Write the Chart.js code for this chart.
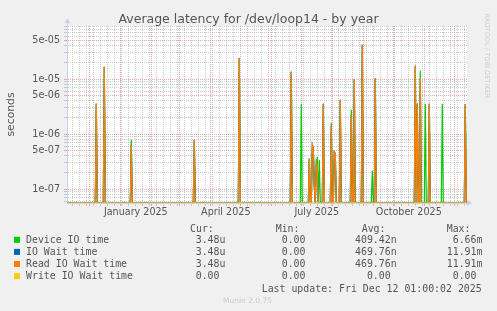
<!DOCTYPE html>
<html><head><meta charset="utf-8">
<script src="https://cdn.jsdelivr.net/npm/chart.js@4/dist/chart.umd.min.js"></script>
<style>html,body{margin:0;padding:0;background:#F0F0F0;overflow:hidden}canvas{display:block}</style>
</head><body>
<canvas id="c" width="497" height="311"></canvas>
<script>
// ---------- text ----------
const TITLE = 'Average latency for /dev/loop14 - by year';
const Y_LABEL = 'seconds';
const LAST_UPDATE = 'Last update: Fri Dec 12 01:00:02 2025';
const FOOTER = 'Munin 2.0.75';
const WATERMARK = 'RRDTOOL / TOBI OETIKER';

// ---------- x axis (days relative to 2025-01-01) ----------
const X_MIN = -53.3, X_MAX = 346.7;
const monthStartDays = [-31, 0, 31, 59, 90, 120, 151, 181, 212, 243, 273, 304, 334];
const monthLabelDays = [0, 90, 181, 273];
const monthLabelText = ['January 2025', 'April 2025', 'July 2025', 'October 2025'];

// ---------- y axis ----------
const Y_MIN = 5.57e-8, Y_MAX = 9.2e-5;
const yLabelMantissas = [1, 5];

// ---------- series (daily averages; days without a listed value are 0) ----------
const spikeDays  = [-24, -16, 11, 74, 119, 171, 181, 189, 192, 193, 194, 196, 197, 199, 203, 211, 214, 215, 220, 231, 234, 242, 252, 255, 295, 297, 300, 305, 309, 322, 345];
const deviceTime = [3.56e-6, 1.67e-5, 7.9e-7, 7.9e-7, 2.41e-5, 1.36e-5, 3.56e-6, 3.56e-7, 5.5e-7, 5.55e-7, 1.1e-7, 2.8e-7, 3.8e-7, 3.4e-7, 3.56e-6, 1.58e-6, 4.7e-7, 4.4e-7, 4.2e-6, 2.77e-6, 1.0e-5, 4.2e-5, 2.15e-7, 1.04e-5, 1.75e-5, 3.56e-6, 1.42e-5, 3.56e-6, 3.56e-6, 3.56e-6, 3.48e-6];
const ioWaitTime = [3.56e-6, 1.67e-5, 6.4e-7, 7.9e-7, 2.41e-5, 1.36e-5, 0, 3.56e-7, 6.4e-7, 5.55e-7, 1.1e-7, 3.05e-7, 2.6e-7, 0, 3.56e-6, 1.42e-6, 4.7e-7, 4.4e-7, 4.2e-6, 2.24e-6, 1.0e-5, 4.2e-5, 0, 1.04e-5, 1.75e-5, 3.56e-6, 1.04e-5, 0, 3.56e-6, 0, 3.48e-6];
const readWaitTime = [3.56e-6, 1.67e-5, 6.4e-7, 7.9e-7, 2.41e-5, 1.36e-5, 0, 3.56e-7, 6.4e-7, 5.55e-7, 1.1e-7, 3.05e-7, 2.6e-7, 0, 3.56e-6, 1.42e-6, 4.7e-7, 4.4e-7, 4.2e-6, 2.24e-6, 1.0e-5, 4.2e-5, 0, 1.04e-5, 1.75e-5, 3.56e-6, 1.04e-5, 0, 3.56e-6, 0, 3.48e-6];
const writeWaitTime = [];  // all zero
const FIRST_DAY = -53, LAST_DAY = 346;

// ---------- legend ----------
const seriesNames  = ['Device IO time', 'IO Wait time', 'Read IO Wait time', 'Write IO Wait time'];
const seriesColors = ['#00CC00', '#0066B3', '#FF8000', '#FFCC00'];
const curVals = ['3.48u', '3.48u', '3.48u', '0.00'];
const minVals = ['0.00', '0.00', '0.00', '0.00'];
const avgVals = ['409.42n', '469.76n', '469.76n', '0.00'];
const maxVals = ['6.66m', '11.91m', '11.91m', '0.00'];

// ---------- build tables ----------
// zero values are clamped to the bottom of the log axis (as rrdtool does)
function daily(vals) {
  const m = new Map();
  spikeDays.forEach((d, i) => { if (vals[i] !== undefined) m.set(d, vals[i]); });
  const out = [];
  for (let d = FIRST_DAY; d <= LAST_DAY; d++) {
    const v = m.has(d) ? m.get(d) : 0;
    out.push({x: d, y: v > 0 ? v : Y_MIN});
  }
  return out;
}
const seriesData = [deviceTime, ioWaitTime, readWaitTime, writeWaitTime];

const xTicks = (() => {
  const s = new Set(monthStartDays.filter(d => d >= X_MIN && d <= X_MAX));
  const arr = [...s];
  for (let d = 1 - 7 * 8; d <= X_MAX; d += 7) if (d >= X_MIN && !s.has(d)) arr.push(d);
  return arr.sort((a, b) => a - b);
})();
const yTicks = (() => {
  const arr = [];
  for (let e = -8; e <= -4; e++) for (let m = 1; m <= 9; m++) {
    const v = Number((m * Math.pow(10, e)).toPrecision(3));
    if (v >= Y_MIN && v <= Y_MAX) arr.push(v);
  }
  return arr;
})();
function mant(v) { return Math.round(v / Math.pow(10, Math.floor(Math.log10(v) + 1e-9))); }
function fmtExp(v) {
  const e = Math.floor(Math.log10(v) + 1e-9), m = mant(v);
  const a = Math.abs(e);
  return m + 'e' + (e < 0 ? '-' : '+') + (a < 10 ? '0' + a : a);
}

const MAJOR = 'rgba(228,130,130,0.7)';
const MINOR = 'rgba(180,180,180,0.7)';
const AXIS = '#C8D0F4';
const TXT = '#555555';

const bgPlugin = {
  id: 'bg',
  beforeDraw(chart) {
    const {ctx, chartArea: a} = chart;
    ctx.save();
    ctx.fillStyle = '#F0F0F0';
    ctx.fillRect(0, 0, chart.width, chart.height);
    ctx.fillStyle = '#FFFFFF';
    ctx.fillRect(a.left, a.top, a.right - a.left, a.bottom - a.top);
    ctx.restore();
  },
  afterDraw(chart) {
    const {ctx, chartArea: a} = chart;
    ctx.save();
    // arrows
    ctx.fillStyle = AXIS; ctx.strokeStyle = AXIS; ctx.lineWidth = 1;
    ctx.beginPath(); ctx.moveTo(a.left + 0.5, a.top); ctx.lineTo(a.left + 0.5, a.top - 4); ctx.stroke();
    ctx.beginPath(); ctx.moveTo(a.left - 2.5, a.top - 3); ctx.lineTo(a.left + 3.5, a.top - 3); ctx.lineTo(a.left + 0.5, a.top - 8); ctx.closePath(); ctx.fill();
    ctx.beginPath(); ctx.moveTo(a.right, a.bottom - 3); ctx.lineTo(a.right, a.bottom + 3); ctx.lineTo(a.right + 5, a.bottom); ctx.closePath(); ctx.fill();

    // title
    ctx.fillStyle = TXT;
    ctx.font = '12.5px "DejaVu Sans"';
    ctx.textAlign = 'center'; ctx.textBaseline = 'alphabetic';
    ctx.fillText(TITLE, 248.5, 23.3);

    // watermark
    ctx.save();
    ctx.fillStyle = '#CCCCCC';
    ctx.font = '6.6px "DejaVu Sans"';
    ctx.translate(487, 13.5);
    ctx.rotate(Math.PI / 2);
    ctx.textAlign = 'left'; ctx.textBaseline = 'middle';
    ctx.fillText(WATERMARK, 0, 0);
    ctx.restore();

    // legend
    ctx.font = '9.9px "DejaVu Sans Mono"';
    ctx.textAlign = 'left'; ctx.textBaseline = 'alphabetic';
    ctx.fillStyle = TXT;
    ctx.fillText('Cur:', 190, 231.5);
    ctx.fillText('Min:', 275.7, 231.5);
    ctx.fillText('Avg:', 361.7, 231.5);
    ctx.fillText('Max:', 446.7, 231.5);
    const pad = s => { const m = s.match(/^([0-9.]+)(.*)$/); return m[1].padStart(6, ' ') + m[2]; };
    for (let i = 0; i < seriesNames.length; i++) {
      const by = 243.1 + 12.1 * i;
      ctx.fillStyle = seriesColors[i];
      ctx.fillRect(14, by - 6.3, 6, 6);
      ctx.fillStyle = TXT;
      ctx.fillText(seriesNames[i], 26, by);
      ctx.fillText(pad(curVals[i]), 183.8, by);
      ctx.fillText(pad(minVals[i]), 269.8, by);
      ctx.fillText(pad(avgVals[i]), 355, by);
      ctx.fillText(pad(maxVals[i]), 440.8, by);
    }
    ctx.fillText(LAST_UPDATE, 261.7, 291.6);

    ctx.fillStyle = '#CCCCCC';
    ctx.font = '7.5px "DejaVu Sans"';
    ctx.textAlign = 'center';
    ctx.fillText(FOOTER, 247.5, 303);
    ctx.restore();
  }
};

const order = [3, 2, 1, 0];
new Chart(document.getElementById('c'), {
  type: 'line',
  data: {
    datasets: seriesNames.map((n, i) => ({
      label: n,
      data: daily(seriesData[i]),
      borderColor: seriesColors[i],
      backgroundColor: seriesColors[i],
      borderWidth: 1.2,
      pointRadius: 0,
      tension: 0,
      fill: false,
      clip: 0,
      order: order[i]
    }))
  },
  options: {
    responsive: false,
    animation: false,
    events: [],
    layout: {padding: {left: 0, right: 30, top: 26, bottom: 0}},
    plugins: {legend: {display: false}, tooltip: {enabled: false}, title: {display: false}},
    scales: {
      x: {
        type: 'linear',
        min: X_MIN, max: X_MAX,
        afterBuildTicks: s => { s.ticks = xTicks.map(v => ({value: v})); },
        afterFit: s => { s.height = 108; },
        grid: {
          color: c => monthStartDays.includes(c.tick && c.tick.value) ? MAJOR : MINOR,
          tickColor: c => monthStartDays.includes(c.tick && c.tick.value) ? MAJOR : MINOR,
          lineWidth: 1,
          drawTicks: true,
          tickLength: 3
        },
        border: {display: true, color: AXIS, width: 1, dash: [1, 1]},
        ticks: {
          autoSkip: false, maxRotation: 0, minRotation: 0,
          padding: 0.5,
          labelOffset: 15.5,
          color: TXT,
          font: {family: 'DejaVu Sans', size: 9.6},
          callback: v => { const k = monthLabelDays.indexOf(v); return k >= 0 ? monthLabelText[k] : ''; }
        }
      },
      y: {
        type: 'logarithmic',
        min: Y_MIN, max: Y_MAX,
        afterBuildTicks: s => { s.ticks = yTicks.map(v => ({value: v})); },
        afterFit: s => { s.width = 67; },
        grid: {
          color: c => (c.tick && yLabelMantissas.includes(mant(c.tick.value))) ? MAJOR : MINOR,
          tickColor: c => (c.tick && yLabelMantissas.includes(mant(c.tick.value))) ? MAJOR : MINOR,
          lineWidth: 1,
          drawTicks: true,
          tickLength: 3
        },
        border: {display: true, color: AXIS, width: 1, dash: [1, 1]},
        ticks: {
          autoSkip: false,
          padding: 4,
          color: TXT,
          font: {family: 'DejaVu Sans', size: 9.6},
          callback: v => yLabelMantissas.includes(mant(v)) ? fmtExp(v) : ''
        },
        title: {
          display: true, text: Y_LABEL, color: TXT,
          font: {family: 'DejaVu Sans', size: 10.8},
          padding: {top: 4.5, bottom: 0}
        }
      }
    }
  },
  plugins: [bgPlugin]
});
</script>
</body></html>
